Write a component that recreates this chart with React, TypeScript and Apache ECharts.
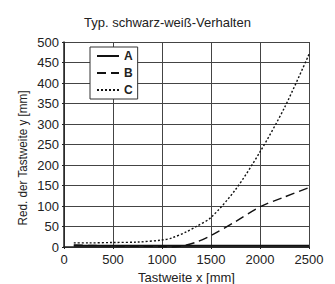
import React, { useEffect, useRef } from "react";
import * as echarts from "echarts";

const xValues = [100, 250, 500, 750, 1000, 1100, 1250, 1350, 1500, 1750, 2000, 2250, 2500];
const seriesA = [3, 3, 3, 3, 3, 3, 3, 3, 3, 3, 3, 3, 3];
const seriesB = [5, 4, 3, 2, 1, 0, 5, 12, 28, 62, 98, 122, 145];
const seriesC = [10, 10, 11, 12, 17, 22, 37, 50, 72, 140, 232, 340, 470];
const seriesNames = ["A", "B", "C"];
const xTicks = { min: 0, max: 2500, interval: 500 };
const yTicks = { min: 0, max: 500, interval: 50 };
const yAxisTitle = "Red. der Tastweite y [mm]";

const font = "'Liberation Sans', Arial, sans-serif";

export default function App() {
  const ref = useRef<HTMLDivElement>(null);
  useEffect(() => {
    if (!ref.current) return;
    const chart = echarts.init(ref.current, undefined, { renderer: "svg" });
    const mk = (name: string, ys: number[], type: any) => ({
      name,
      type: "line",
      data: xValues.map((x, i) => [x, ys[i]]),
      symbol: "none",
      smooth: 0.3,
      itemStyle: { color: "#111" },
      lineStyle: { color: "#111", width: name === "A" ? 2 : 1.4, type },
    });
    chart.setOption({
      animation: false,
      backgroundColor: "#fff",
      title: {
        text: "Typ. schwarz-weiß-Verhalten",
        left: "center",
        top: 11,
        textStyle: { fontFamily: font, fontSize: 13, fontWeight: "normal", color: "#222" },
      },
      legend: {
        orient: "vertical",
        left: 90,
        top: 47,
        data: seriesNames,
        itemWidth: 22,
        itemHeight: 10,
        itemGap: 5,
        padding: [3, 5, 3, 6],
        borderColor: "#333",
        borderWidth: 1,
        backgroundColor: "#fff",
        itemStyle: { opacity: 0 },
        textStyle: { fontFamily: font, fontSize: 12, fontWeight: "bold", color: "#222" },
      },
      graphic: [
        {
          type: "text",
          x: 23,
          y: 158,
          rotation: Math.PI / 2,
          scaleX: 0.9,
          style: {
            text: yAxisTitle,
            fontFamily: font,
            fontSize: 13,
            fill: "#222",
            align: "center",
            verticalAlign: "middle",
          },
        },
      ],
      grid: { left: 64, right: 26, top: 42, bottom: 37, outerBoundsMode: "none", containLabel: false },
      xAxis: {
        type: "value",
        ...xTicks,
        name: "Tastweite x [mm]",
        nameLocation: "middle",
        nameGap: 23,
        nameTextStyle: { fontFamily: font, fontSize: 13, color: "#222" },
        axisLine: { lineStyle: { color: "#222", width: 1.5 } },
        axisTick: { show: true, length: 2, lineStyle: { color: "#222" } },
        axisLabel: { fontFamily: font, fontSize: 13, color: "#222", margin: 6, formatter: (v: number) => String(v) },
        splitLine: { lineStyle: { color: "#444", width: 1 } },
      },
      yAxis: {
        type: "value",
        ...yTicks,
        axisLine: { show: true, lineStyle: { color: "#222", width: 1.5 } },
        axisTick: { show: true, length: 2, lineStyle: { color: "#222" } },
        axisLabel: { fontFamily: font, fontSize: 13, color: "#222", margin: 5, formatter: (v: number) => String(v) },
        splitLine: { lineStyle: { color: "#444", width: 1 } },
      },
      series: [
        mk("A", seriesA, "solid"),
        mk("B", seriesB, [9, 5]),
        mk("C", seriesC, [2, 2]),
      ],
    });
    return () => chart.dispose();
  }, []);
  return <div ref={ref} style={{ position: "fixed", left: 0, top: 0, width: 335, height: 284 }} />;
}
